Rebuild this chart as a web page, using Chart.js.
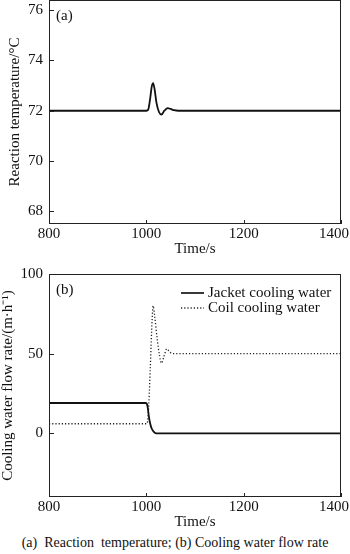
<!DOCTYPE html>
<html>
<head>
<meta charset="utf-8">
<script src="https://cdn.jsdelivr.net/npm/chart.js@4.4.0/dist/chart.umd.min.js"></script>
<style>
body{margin:0;background:#fff;width:350px;height:554px;position:relative;overflow:hidden}
#c1{position:absolute;left:0;top:0}
#c2{position:absolute;left:0;top:262px}
#cap{position:absolute;left:0;top:535px;width:350px;text-align:center;font:14px 'Liberation Serif','Times New Roman',serif;line-height:16px;color:#111;white-space:pre}
</style>
</head>
<body>
<canvas id="c1" width="350" height="262"></canvas>
<canvas id="c2" width="350" height="268"></canvas>
<div id="cap">(a)  Reaction  temperature; (b) Cooling water flow rate</div>
<script>
const timeTicks = [800, 1000, 1200, 1400]
const tempTicks = [68, 70, 72, 74, 76]
const flowTicks = [0, 50, 100]

// (a) reaction temperature
const tempTime = [800, 1000, 1004, 1008, 1011, 1014, 1017, 1021, 1026, 1031, 1037, 1044, 1050, 1057, 1066, 1400]
const tempValues = [72, 72, 72.05, 72.5, 72.95, 73.1, 72.85, 72.3, 71.95, 71.85, 72.0, 72.1, 72.07, 72.02, 72.0, 72.0]

// (b) cooling water flow rates
const jacketTime = [800, 998, 1001, 1003, 1005, 1008, 1011, 1015, 1020, 1400]
const jacketFlow = [19, 19, 18.5, 16, 11, 6, 3, 1, 0, 0]
const coilTime = [800, 1001, 1004, 1008, 1012, 1014, 1017, 1022, 1027, 1031, 1036, 1042, 1048, 1055, 1400]
const coilFlow = [6, 6, 12, 40, 72, 80, 74, 60, 49, 44, 48, 53, 51, 50, 50]

const pts = (xs, ys) => xs.map((x, i) => ({x: x, y: ys[i]}))

const serif = "'Liberation Serif', 'Times New Roman', serif"
Chart.defaults.font.family = serif
Chart.defaults.font.size = 15
Chart.defaults.color = '#111'

const frame = {
    id: 'frame',
    afterDraw(chart, args, opts) {
        const ctx = chart.ctx
        const a = chart.chartArea
        const x = chart.scales.x, y = chart.scales.y
        ctx.save()
        ctx.strokeStyle = '#222'
        ctx.lineWidth = 1
        ctx.strokeRect(a.left + 0.5, a.top + 0.5, a.right - a.left - 1, a.bottom - a.top - 1)
        ctx.beginPath()
        y.ticks.forEach(t => {
            const py = Math.round(y.getPixelForValue(t.value)) + 0.5
            ctx.moveTo(a.left, py); ctx.lineTo(a.left + 5, py)
        })
        x.ticks.forEach(t => {
            const px = Math.round(x.getPixelForValue(t.value)) + 0.5
            ctx.moveTo(px, a.bottom); ctx.lineTo(px, a.bottom - 4)
        })
        ctx.stroke()
        ctx.fillStyle = '#111'
        ctx.font = '15px ' + serif
        // x tick labels, kept inside the canvas
        ctx.textAlign = 'center'
        ctx.textBaseline = 'top'
        x.ticks.forEach(t => {
            const txt = String(t.value)
            const half = ctx.measureText(txt).width / 2
            const px = Math.min(x.getPixelForValue(t.value), chart.width - half - 1)
            ctx.fillText(txt, px, a.bottom + 3)
        })
        ctx.textAlign = 'left'
        ctx.textBaseline = 'middle'
        ctx.fillText(opts.label, a.left + 7, a.top + 16)
        if (opts.legend) {
            chart.data.datasets.forEach((ds, i) => {
                const ly = a.top + 19 + i * 15
                ctx.beginPath()
                ctx.lineWidth = ds.borderWidth
                ctx.setLineDash(ds.borderDash || [])
                ctx.moveTo(181, ly); ctx.lineTo(204, ly)
                ctx.stroke()
                ctx.setLineDash([])
                ctx.fillText(ds.label, 208, ly)
            })
        }
        ctx.restore()
    }
}

function makeOptions(o) {
    return {
        responsive: false,
        animation: false,
        layout: {padding: {top: o.padTop, right: 9, left: 0, bottom: 0}},
        plugins: {legend: {display: false}, tooltip: {enabled: false}, frame: {label: o.label, legend: o.legend}},
        scales: {
            x: {
                type: 'linear', min: 800, max: 1400,
                grid: {display: false, drawTicks: false},
                border: {display: false},
                ticks: {display: false},
                afterBuildTicks: s => { s.ticks = timeTicks.map(v => ({value: v})) },
                afterFit: s => { s.height = o.xHeight; s.paddingLeft = 0; s.paddingRight = 0 },
                title: {display: true, text: 'Time/s', font: {size: 15, lineHeight: 1}, padding: {top: 0, bottom: o.xTitlePad}}
            },
            y: {
                min: o.yMin, max: o.yMax,
                grid: {display: false, drawTicks: false},
                border: {display: false},
                ticks: {padding: 6, callback: v => String(v)},
                afterBuildTicks: s => { s.ticks = o.yTicks.map(v => ({value: v})) },
                afterFit: s => { s.width = 49; s.paddingTop = 0; s.paddingBottom = 0 },
                title: {display: true, text: o.yTitle, font: {size: 15, lineHeight: 1}, padding: {top: o.yTitlePad, bottom: 0}}
            }
        }
    }
}

new Chart(document.getElementById('c1'), {
    type: 'line',
    data: {
        datasets: [{
            label: 'Reaction temperature',
            data: pts(tempTime, tempValues),
            borderColor: '#111', borderWidth: 1.8,
            pointRadius: 0, cubicInterpolationMode: 'monotone'
        }]
    },
    options: makeOptions({padTop: 0, xHeight: 38, xTitlePad: 5, yMin: 67.5, yMax: 76.4, yTicks: tempTicks,
        yTitle: 'Reaction temperature/°C', yTitlePad: 8, label: '(a)', legend: false}),
    plugins: [frame]
})

new Chart(document.getElementById('c2'), {
    type: 'line',
    data: {
        datasets: [
            {
                label: 'Jacket cooling water',
                data: pts(jacketTime, jacketFlow),
                borderColor: '#111', borderWidth: 1.8,
                pointRadius: 0, cubicInterpolationMode: 'monotone'
            },
            {
                label: 'Coil cooling water',
                data: pts(coilTime, coilFlow),
                borderColor: '#222', borderWidth: 1.3, borderDash: [1.2, 2],
                pointRadius: 0, cubicInterpolationMode: 'monotone'
            }
        ]
    },
    options: makeOptions({padTop: 12, xHeight: 33, xTitlePad: 0, yMin: -40, yMax: 100, yTicks: flowTicks,
        yTitle: 'Cooling water flow rate/(m·h⁻¹)', yTitlePad: 1, label: '(b)', legend: true}),
    plugins: [frame]
})
</script>
</body>
</html>
